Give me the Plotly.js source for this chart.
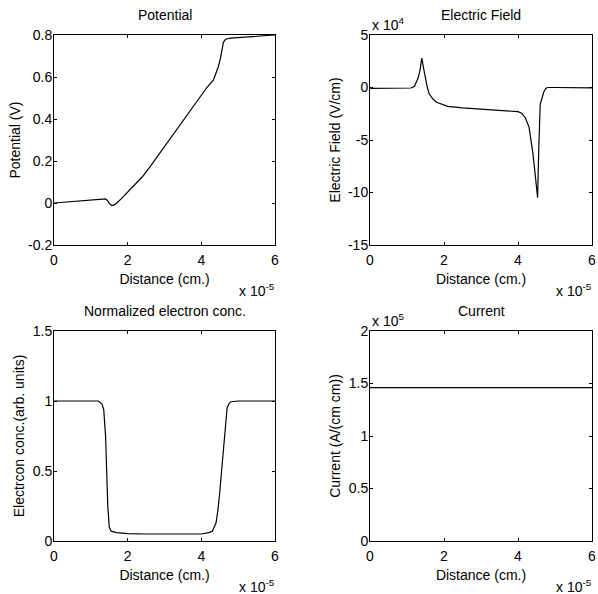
<!DOCTYPE html>
<html>
<head>
<meta charset="utf-8">
<script src="https://cdn.plot.ly/plotly-3.0.1.min.js"></script>
<style>html,body{margin:0;padding:0;background:#fff;}#chart{width:598px;height:594px;}</style>
</head>
<body>
<div id="chart"></div>
<script>
// Distance in units of 1e-5 cm
const xTickVals = [0, 2, 4, 6];
const xTickText = ["0", "2", "4", "6"];

// Potential (V)
const potX = [0, 0.5, 1.0, 1.3, 1.4, 1.45, 1.5, 1.57, 1.65, 1.79, 1.97, 2.15, 2.4, 2.61, 3.06, 3.51, 3.96, 4.15, 4.33, 4.46, 4.52, 4.56, 4.6, 4.65, 4.7, 4.8, 5.0, 5.5, 6.0];
const potV = [0, 0.008, 0.015, 0.02, 0.02, 0.012, -0.002, -0.012, -0.008, 0.014, 0.046, 0.078, 0.125, 0.173, 0.284, 0.395, 0.506, 0.55, 0.586, 0.649, 0.69, 0.73, 0.765, 0.778, 0.782, 0.785, 0.788, 0.795, 0.8];
const potTickVals = [-0.2, 0, 0.2, 0.4, 0.6, 0.8];
const potTickText = ["-0.2", "0", "0.2", "0.4", "0.6", "0.8"];

// Electric field (x 1e4 V/cm)
const efX = [0, 0.5, 1.0, 1.1, 1.2, 1.25, 1.3, 1.35, 1.4, 1.45, 1.5, 1.55, 1.6, 1.7, 1.8, 1.95, 2.1, 2.5, 3.0, 3.5, 4.0, 4.1, 4.2, 4.3, 4.35, 4.4, 4.45, 4.5, 4.53, 4.56, 4.6, 4.65, 4.7, 4.75, 4.8, 5.0, 5.5, 6.0];
const efV = [-0.08, -0.08, -0.07, -0.05, 0.1, 0.5, 0.9, 1.6, 2.8, 1.8, 0.7, 0.0, -0.6, -1.1, -1.4, -1.6, -1.8, -1.95, -2.05, -2.15, -2.3, -2.45, -2.9, -3.8, -4.8, -6.2, -7.8, -9.5, -10.5, -6.0, -1.6, -1.0, -0.4, -0.1, 0, 0, 0, -0.03];
const efTickVals = [-15, -10, -5, 0, 5];
const efTickText = ["-15", "-10", "-5", "0", "5"];

// Normalized electron concentration
const ncX = [0, 0.5, 1.0, 1.2, 1.3, 1.35, 1.4, 1.43, 1.46, 1.5, 1.55, 1.7, 2.0, 2.5, 3.0, 3.5, 4.0, 4.2, 4.3, 4.4, 4.45, 4.5, 4.55, 4.6, 4.65, 4.7, 4.75, 4.8, 5.0, 5.5, 6.0];
const ncV = [1, 1, 1, 1, 0.98, 0.94, 0.75, 0.5, 0.25, 0.1, 0.07, 0.06, 0.052, 0.05, 0.05, 0.05, 0.05, 0.06, 0.07, 0.13, 0.22, 0.35, 0.5, 0.65, 0.82, 0.95, 0.98, 0.995, 1, 1, 1];
const ncTickVals = [0, 0.5, 1, 1.5];
const ncTickText = ["0", "0.5", "1", "1.5"];

// Current (x 1e5 A/(cm cm))
const curX = [0, 1, 2, 3, 4, 5, 6];
const curV = [1.46, 1.46, 1.46, 1.46, 1.46, 1.46, 1.46];
const curTickVals = [0, 0.5, 1, 1.5, 2];
const curTickText = ["0", "0.5", "1", "1.5", "2"];

const FONT = "Liberation Sans, Arial, sans-serif";
const FS = 14;

function xax(domain, anchor) {
  return {
    domain: domain, anchor: anchor, range: [0, 6],
    tickvals: xTickVals, ticktext: xTickText,
    ticks: "inside", ticklen: 3, tickcolor: "#000",
    ticklabelstandoff: 2,
    showline: true, mirror: "ticks", linecolor: "#000", linewidth: 1,
    showgrid: false, zeroline: false, automargin: false,
    tickfont: {family: FONT, size: FS, color: "#000"},
    title: {text: "Distance (cm.)", font: {family: FONT, size: FS, color: "#000"}, standoff: 7}
  };
}
function yax(domain, anchor, range, tv, tt, title) {
  return {
    domain: domain, anchor: anchor, range: range,
    tickvals: tv, ticktext: tt,
    ticks: "inside", ticklen: 3, tickcolor: "#000",
    ticklabelstandoff: -2,
    showline: true, mirror: "ticks", linecolor: "#000", linewidth: 1,
    showgrid: false, zeroline: false, automargin: false,
    tickfont: {family: FONT, size: FS, color: "#000"},
    title: {text: title, font: {family: FONT, size: FS, color: "#000"}, standoff: 4}
  };
}

const line = {color: "#000", width: 1.2};
const data = [
  {x: potX, y: potV, xaxis: "x", yaxis: "y", mode: "lines", line: line},
  {x: efX, y: efV, xaxis: "x2", yaxis: "y2", mode: "lines", line: line},
  {x: ncX, y: ncV, xaxis: "x3", yaxis: "y3", mode: "lines", line: line},
  {x: curX, y: curV, xaxis: "x4", yaxis: "y4", mode: "lines", line: line}
];

const dL = [54/598, 275/598], dR = [370/598, 592/598];
const dT = [1 - 245/594, 1 - 35/594], dB = [1 - 541/594, 1 - 331/594];

function title(txt, xr, yr) {
  return {text: txt, xref: xr + " domain", yref: yr + " domain", x: 0.5, y: 1, xanchor: "center", yanchor: "middle", yshift: 20, showarrow: false, font: {family: FONT, size: FS, color: "#000"}};
}
function mult(txt, xr, yr, pos) {
  if (pos === "x") return {text: txt, xref: xr + " domain", yref: yr + " domain", x: 1, y: 0, xanchor: "right", yanchor: "middle", yshift: -45, xshift: 2, showarrow: false, font: {family: FONT, size: FS, color: "#000"}};
  return {text: txt, xref: xr + " domain", yref: yr + " domain", x: 0, y: 1, xanchor: "left", yanchor: "middle", yshift: 11, showarrow: false, font: {family: FONT, size: FS, color: "#000"}};
}

const layout = {
  width: 598, height: 594,
  margin: {l: 0, r: 0, t: 0, b: 0},
  paper_bgcolor: "#fff", plot_bgcolor: "#fff",
  showlegend: false,
  font: {family: FONT, size: FS, color: "#000"},
  xaxis: xax(dL, "y"),
  yaxis: yax(dT, "x", [-0.2, 0.8], potTickVals, potTickText, "Potential (V)"),
  xaxis2: xax(dR, "y2"),
  yaxis2: yax(dT, "x2", [-15, 5], efTickVals, efTickText, "Electric Field (V/cm)"),
  xaxis3: xax(dL, "y3"),
  yaxis3: yax(dB, "x3", [0, 1.5], ncTickVals, ncTickText, "Electrcon conc.(arb. units)"),
  xaxis4: xax(dR, "y4"),
  yaxis4: yax(dB, "x4", [0, 2], curTickVals, curTickText, "Current (A/(cm cm))"),
  annotations: [
    title("Potential", "x", "y"),
    title("Electric Field", "x2", "y2"),
    title("Normalized electron conc.", "x3", "y3"),
    title("Current", "x4", "y4"),
    mult("x 10<sup>-5</sup>", "x", "y", "x"),
    mult("x 10<sup>-5</sup>", "x2", "y2", "x"),
    mult("x 10<sup>-5</sup>", "x3", "y3", "x"),
    mult("x 10<sup>-5</sup>", "x4", "y4", "x"),
    mult("x 10<sup>4</sup>", "x2", "y2", "y"),
    mult("x 10<sup>5</sup>", "x4", "y4", "y")
  ]
};

Plotly.newPlot("chart", data, layout, {staticPlot: true, displayModeBar: false});
</script>
</body>
</html>
